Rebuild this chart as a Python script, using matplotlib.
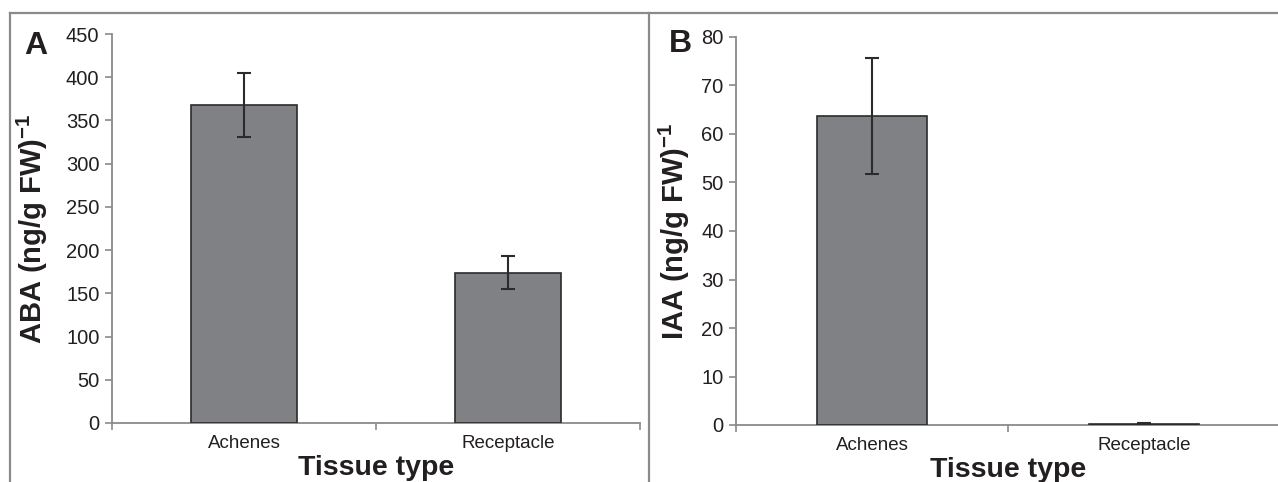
import matplotlib.pyplot as plt
from matplotlib.lines import Line2D

plt.rcParams['font.family'] = ['Liberation Sans', 'DejaVu Sans']
plt.rcParams['mathtext.fontset'] = 'custom'
plt.rcParams['mathtext.rm'] = 'Liberation Sans'
plt.rcParams['mathtext.bf'] = 'Liberation Sans:bold'

# data
tissues = ['Achenes', 'Receptacle']
aba_mean = [368, 174]
aba_err = [37, 19]
iaa_mean = [63.7, 0.3]
iaa_err = [12.0, 0.1]

frame_grey = '#8a8a8a'
bar_grey = '#808184'
text_col = '#231f20'

fig = plt.figure(figsize=(12.78, 4.82), dpi=100)

ax_a = fig.add_axes([112 / 1278, 1 - 423 / 482, 528 / 1278, 389 / 482])
ax_b = fig.add_axes([736 / 1278, 1 - 425 / 482, 544 / 1278, 388 / 482])


def style_panel(ax, means, errs, ymax, ystep, ylabel, letter, label_x):
    x = range(len(tissues))
    ax.bar(x, means, width=0.405, color=bar_grey, edgecolor='#2b2b2b', linewidth=1.2,
           yerr=errs, capsize=5, error_kw=dict(ecolor='#2b2b2b', elinewidth=1.5, capthick=1.5),
           zorder=3)
    ax.set_xlim(-0.5, len(tissues) - 0.5)
    ax.set_ylim(0, ymax)
    ax.set_yticks(range(0, ymax + 1, ystep))
    # major ticks at category boundaries, labels at centers
    ax.set_xticks([i - 0.5 for i in range(len(tissues) + 1)])
    ax.set_xticklabels([])
    ax.set_xticks(list(x), minor=True)
    ax.set_xticklabels(tissues, minor=True)
    ax.tick_params(axis='x', which='major', direction='out', length=5, width=1.2, color=frame_grey)
    ax.tick_params(axis='x', which='minor', length=0, pad=9, labelsize=13.5, labelcolor=text_col)
    ax.tick_params(axis='y', direction='out', length=5, width=1.2, color=frame_grey,
                   pad=4, labelsize=14.5, labelcolor=text_col)
    for side in ['top', 'right']:
        ax.spines[side].set_visible(False)
    for side in ['left', 'bottom']:
        ax.spines[side].set_color(frame_grey)
        ax.spines[side].set_linewidth(1.3)
    ax.set_ylabel(ylabel, fontsize=21, fontweight='bold', color=text_col)
    ax.yaxis.set_label_coords(label_x, 0.5)
    ax.set_xlabel('Tissue type', fontsize=20.5, fontweight='bold', color=text_col)
    ax.xaxis.set_label_coords(0.5, -0.083)
    ax.text(letter[1], letter[2], letter[0], transform=fig.transFigure,
            fontsize=23, fontweight='bold', color=text_col, ha='left', va='top')


style_panel(ax_a, aba_mean, aba_err, 450, 50, r'ABA (ng/g FW)$^{\mathbf{-1}}$',
            ('A', 24 / 1278, 1 - 31 / 482), -0.118)
style_panel(ax_b, iaa_mean, iaa_err, 80, 10, r'IAA (ng/g FW)$^{\mathbf{-1}}$',
            ('B', 669 / 1278, 1 - 29 / 482), -0.080)

# panel frame lines
fig.add_artist(Line2D([10 / 1278, 1], [1 - 13 / 482, 1 - 13 / 482], color=frame_grey, lw=1.6))
fig.add_artist(Line2D([10 / 1278, 10 / 1278], [0, 1 - 13 / 482], color=frame_grey, lw=1.6))
fig.add_artist(Line2D([649 / 1278, 649 / 1278], [0, 1 - 13 / 482], color=frame_grey, lw=1.6))

fig.savefig('out.png', dpi=100)
